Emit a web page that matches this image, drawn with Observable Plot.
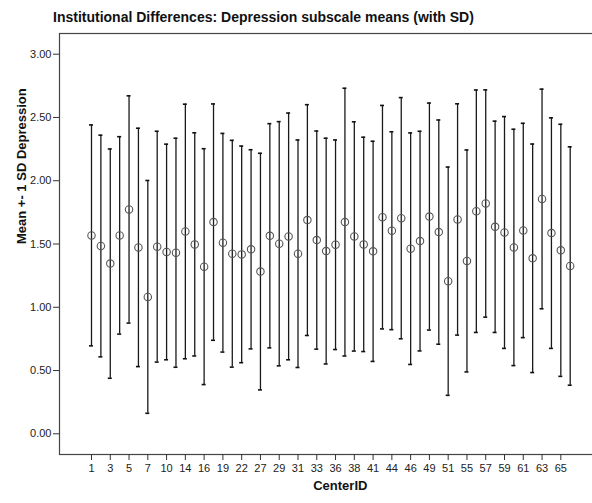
<!DOCTYPE html>
<html>
<head>
<meta charset="utf-8">
<script src="https://cdn.jsdelivr.net/npm/d3@7"></script>
<script src="https://cdn.jsdelivr.net/npm/@observablehq/plot@0.6"></script>
<style>
html, body { margin: 0; padding: 0; background: #fff; overflow: hidden; width: 592px; height: 503px; }
#title { height: 26px; box-sizing: border-box; padding: 9px 0 0 53px; line-height: 16px;
  font: bold 14px "Liberation Sans", Arial, sans-serif; color: #111; white-space: nowrap; }
#chart svg { max-width: none !important; display: block; }
</style>
</head>
<body>
<div id="title">Institutional Differences: Depression subscale means (with SD)</div>
<div id="chart"></div>
<script>
const centerIDs = [1,2,3,4,5,6,7,8,10,12,14,15,16,17,19,20,22,24,27,28,29,30,31,32,33,34,36,37,38,39,41,42,44,45,46,47,49,50,51,53,55,56,57,58,59,60,61,62,63,64,65,66];
const means = [1.568,1.484,1.345,1.568,1.773,1.473,1.082,1.479,1.437,1.431,1.599,1.497,1.321,1.673,1.510,1.423,1.418,1.458,1.282,1.565,1.502,1.560,1.423,1.689,1.531,1.444,1.494,1.673,1.560,1.497,1.442,1.712,1.605,1.704,1.463,1.523,1.717,1.594,1.206,1.694,1.366,1.759,1.820,1.636,1.591,1.473,1.607,1.387,1.856,1.586,1.450,1.326];
const sds = [0.873,0.876,0.906,0.780,0.898,0.942,0.920,0.912,0.852,0.905,1.006,0.882,0.932,0.934,0.864,0.896,0.856,0.787,0.935,0.886,0.965,0.975,0.899,0.912,0.862,0.892,0.828,1.058,0.906,0.847,0.870,0.883,0.782,0.953,0.915,0.868,0.897,0.886,0.902,0.914,0.877,0.958,0.898,0.835,0.916,0.934,0.847,0.903,0.868,0.911,0.996,0.942];
const xTickLabels = [1,3,5,7,10,14,16,19,22,27,29,31,33,36,38,41,44,46,49,51,55,57,59,61,63,65];
const yTicks = [0,0.5,1,1.5,2,2.5,3];

const data = centerIDs.map((id, i) => ({id: String(id), mean: means[i], lo: means[i] - sds[i], hi: means[i] + sds[i]}));

const font = '"Liberation Sans", Arial, sans-serif';
const chart = Plot.plot({
  width: 610,
  height: 477,
  marginLeft: 59,
  marginRight: 8,
  marginTop: 7,
  marginBottom: 49,
  style: {fontFamily: font, fontSize: "11px", color: "#222", background: "#fff", maxWidth: "none"},
  x: {type: "band", domain: centerIDs.map(String), range: [86.3, 574.4], padding: 0, round: false},
  y: {domain: [-0.1636, 3.1636]},
  marks: [
    Plot.ruleX(data, {x: "id", y1: "lo", y2: "hi", stroke: "#1a1a1a", strokeWidth: 1.3}),
    Plot.tickY(data, {x: "id", y: "hi", stroke: "#111", strokeWidth: 1.6, insetLeft: 2.7, insetRight: 2.7}),
    Plot.tickY(data, {x: "id", y: "lo", stroke: "#111", strokeWidth: 1.6, insetLeft: 2.7, insetRight: 2.7}),
    Plot.dot(data, {x: "id", y: "mean", r: 3.7, stroke: "#555", strokeWidth: 1.1, fill: "none"}),
    Plot.frame({stroke: "#444", strokeWidth: 1.2}),
    Plot.axisY({ticks: yTicks, tickFormat: d3.format(".2f"), tickSize: 6, tickPadding: 2, fontSize: 11, label: null, stroke: "#333", fill: "#222"}),
    Plot.axisX({ticks: xTickLabels.map(String), tickSize: 6, tickPadding: 4, fontSize: 11, label: null, stroke: "#333", fill: "#222"}),
    Plot.text(["Mean +- 1 SD Depression"], {frameAnchor: "left", rotate: -90, dx: -38, fontWeight: "bold", fontSize: 13, fill: "#111"}),
    Plot.text(["CenterID"], {x: () => "38", frameAnchor: "bottom", dx: -14, dy: 35, fontWeight: "bold", fontSize: 13, fill: "#111"})
  ]
});
document.getElementById("chart").appendChild(chart);
</script>
</body>
</html>
